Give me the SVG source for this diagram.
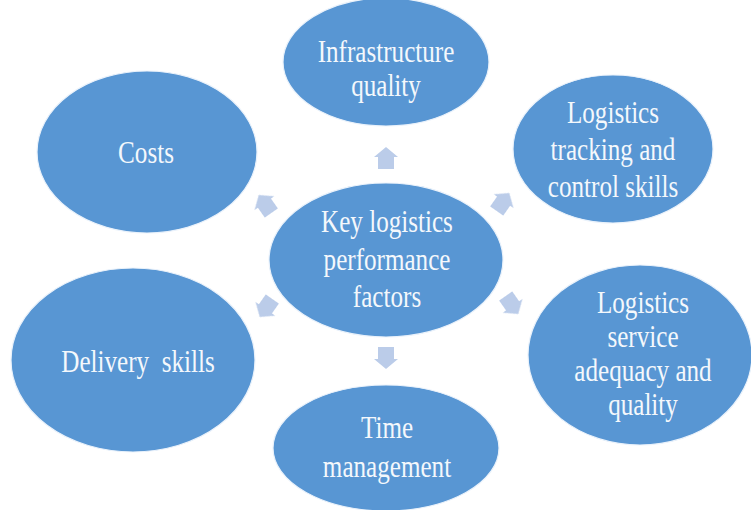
<svg xmlns="http://www.w3.org/2000/svg" width="751" height="510" viewBox="0 0 751 510">
  <defs>
    <style>
      .node { fill: #5896d3; stroke: #eaf2fb; stroke-width: 1.2; }
      .label { font-family: "Liberation Serif", "Times New Roman", serif; font-size: 32px; fill: #f4f8fc; text-anchor: middle; }
      .arrow { fill: #b4c7e7; opacity: 0.9; filter: url(#soft); }
    </style>
    <filter id="soft" x="-30%" y="-30%" width="160%" height="160%">
      <feGaussianBlur stdDeviation="0.7"/>
    </filter>
    <!-- block arrow pointing along +x, centred on the origin -->
    <path id="blockArrow" d="M-11,-8 L1,-8 L1,-12 L11,0 L1,12 L1,8 L-11,8 Z"/>
  </defs>

  <rect width="751" height="510" fill="#ffffff"/>

  <!-- connectors: arrows diverging from the central node -->
  <g id="connectors">
    <use href="#blockArrow" class="arrow" transform="translate(386,158) rotate(-90)"/>
    <use href="#blockArrow" class="arrow" transform="translate(265,204) rotate(-125)"/>
    <use href="#blockArrow" class="arrow" transform="translate(503,202) rotate(-55)"/>
    <use href="#blockArrow" class="arrow" transform="translate(266,308) rotate(125)"/>
    <use href="#blockArrow" class="arrow" transform="translate(512,305) rotate(55)"/>
    <use href="#blockArrow" class="arrow" transform="translate(386,358) rotate(90)"/>
  </g>

  <g id="center">
    <ellipse class="node" cx="386" cy="260" rx="117" ry="77"/>
    <g transform="translate(387,0) scale(0.785,1)">
      <text class="label" x="0" y="232">Key logistics</text>
      <text class="label" x="0" y="270">performance</text>
      <text class="label" x="0" y="307">factors</text>
    </g>
  </g>

  <g id="infrastructure">
    <ellipse class="node" cx="386" cy="62" rx="103" ry="64"/>
    <g transform="translate(386,0) scale(0.785,1)">
      <text class="label" x="0" y="62">Infrastructure</text>
      <text class="label" x="0" y="96">quality</text>
    </g>
  </g>

  <g id="costs">
    <ellipse class="node" cx="147" cy="152" rx="110" ry="81"/>
    <g transform="translate(146,0) scale(0.785,1)">
      <text class="label" x="0" y="163">Costs</text>
    </g>
  </g>

  <g id="tracking">
    <ellipse class="node" cx="613" cy="149" rx="100" ry="74"/>
    <g transform="translate(613,0) scale(0.785,1)">
      <text class="label" x="0" y="123">Logistics</text>
      <text class="label" x="0" y="160">tracking and</text>
      <text class="label" x="0" y="197">control skills</text>
    </g>
  </g>

  <g id="service">
    <ellipse class="node" cx="640" cy="355" rx="112" ry="90"/>
    <g transform="translate(643,0) scale(0.785,1)">
      <text class="label" x="0" y="313">Logistics</text>
      <text class="label" x="0" y="347">service</text>
      <text class="label" x="0" y="381">adequacy and</text>
      <text class="label" x="0" y="415">quality</text>
    </g>
  </g>

  <g id="delivery">
    <ellipse class="node" cx="133" cy="360" rx="122" ry="92"/>
    <g transform="translate(138,0) scale(0.785,1)">
      <text class="label" x="0" y="372" xml:space="preserve">Delivery  skills</text>
    </g>
  </g>

  <g id="time">
    <ellipse class="node" cx="386" cy="448" rx="113" ry="63"/>
    <g transform="translate(387,0) scale(0.785,1)">
      <text class="label" x="0" y="438">Time</text>
      <text class="label" x="0" y="477">management</text>
    </g>
  </g>
</svg>
